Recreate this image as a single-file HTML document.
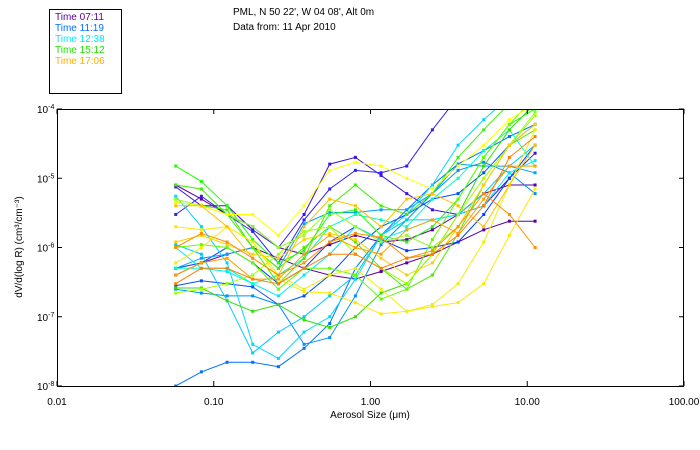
<!DOCTYPE html>
<html><head><meta charset="utf-8"><style>
body{margin:0;background:#fff;}
svg{display:block;font-family:"Liberation Sans",sans-serif;}
</style></head><body>
<svg id="chart" width="700" height="450" viewBox="0 0 700 450">
<rect x="0" y="0" width="700" height="450" fill="#fff"/>
<g>
<rect x="49.5" y="9.5" width="72" height="84" fill="none" stroke="#000"/>
<text x="55" y="20" font-size="10" fill="#5a00a0">Time 07:11</text>
<text x="55" y="31" font-size="10" fill="#0070ff">Time 11:19</text>
<text x="55" y="42" font-size="10" fill="#00e8ff">Time 12:38</text>
<text x="55" y="53" font-size="10" fill="#20e000">Time 15:12</text>
<text x="55" y="64" font-size="10" fill="#ffb000">Time 17:06</text>
</g>
<text x="233" y="15" font-size="10">PML, N 50 22', W 04 08', Alt 0m</text>
<text x="233" y="30" font-size="10">Data from: 11 Apr 2010</text>
<defs><clipPath id="pc"><rect x="57" y="109" width="627" height="277"/></clipPath></defs>
<g id="series" clip-path="url(#pc)"></g>
<rect x="57.5" y="109.5" width="626" height="277" fill="none" stroke="#000"/>
<g id="axes"></g>
<text x="370" y="418" font-size="10" text-anchor="middle">Aerosol Size (μm)</text>
<text transform="translate(22,247) rotate(-90)" font-size="10" text-anchor="middle">dV/d(log R) (cm³/cm⁻³)</text>
</svg>
<script>
const sizes=[0.0572,0.0834,0.1216,0.1773,0.2585,0.3769,0.5495,0.801,1.168,1.703,2.483,3.62,5.278,7.695,11.22];
const xTicks=[0.01,0.1,1,10,100];
const xTickLabels=["0.01","0.10","1.00","10.00","100.00"];
const yTicks=[1e-4,1e-5,1e-6,1e-7,1e-8];
const yTickExps=["-4","-5","-6","-7","-8"];
const seriesColors=["#5a00a0","#5a00a0","#3c10e0","#3020f0","#0040ff","#0050ff","#0070ff","#0090ff","#00a0ff","#00c8ff","#00d8ff","#00e8ff","#00ffc0","#20ff00","#30e000","#40f000","#50e800","#60ff00","#a0ff00","#90ff20","#ffff00","#ffe800","#f0f000","#ffd000","#ffc000","#ffa000","#ff9000","#ff8000"];
const s1=[4e-7,6e-7,8e-7,1e-6,7e-7,5e-7,4e-7,3.5e-7,4.5e-7,6e-7,8e-7,1.2e-6,1.8e-6,2.4e-6,2.4e-6];
const s2=[8e-6,5e-6,3e-6,2e-6,1e-6,8e-7,1.1e-6,1.5e-6,1.2e-6,1.3e-6,1.8e-6,3e-6,6e-6,8e-6,8e-6];
const s3=[7.5e-6,4e-6,4e-6,1.8e-6,1e-6,3e-6,1.6e-5,2e-5,1.1e-5,6e-6,3.5e-6,3e-6,4e-6,1e-5,2.3e-5];
const s4=[3e-6,5.5e-6,3e-6,1.7e-6,6e-7,2.5e-6,7e-6,1.3e-5,1.2e-5,1.5e-5,5e-5,1.5e-4,3e-4,5e-4,6e-4];
const s5=[5e-7,6e-7,1e-6,6e-7,3e-7,5e-7,1.2e-6,2e-6,1.3e-6,9e-7,1e-6,1.2e-6,3e-6,1e-5,3e-5];
const s6=[2.8e-7,3.3e-7,3e-7,2.7e-7,1.5e-7,2e-7,4e-7,1e-6,2e-6,3e-6,5e-6,6e-6,1.2e-5,3e-5,6e-5];
const s7=[1e-8,1.6e-8,2.2e-8,2.2e-8,1.9e-8,3.5e-8,8e-8,5e-7,1.5e-6,3.5e-6,8e-6,1.6e-5,2.5e-5,4e-5,6e-5];
const s8=[2.5e-7,2.2e-7,2e-7,2e-7,1.5e-7,4e-8,5e-8,2e-7,1.1e-6,2.5e-6,6e-6,1.3e-5,1.7e-5,1.2e-5,6e-6];
const s9=[5e-7,7e-7,8e-7,1e-6,5e-7,2.2e-6,3.2e-6,3.2e-6,3.5e-6,3.5e-6,6e-6,1.6e-5,1.5e-5,1.5e-5,1.2e-5];
const s10=[1.1e-6,8e-7,1.7e-7,3e-8,6e-8,1e-7,2e-7,4e-7,1.5e-6,2.5e-6,2.5e-6,3e-6,6e-6,1.5e-5,3e-5];
const s11=[5.5e-6,2e-6,6e-7,4e-8,2.5e-8,6e-8,1e-7,3.5e-7,1.5e-6,3e-6,8e-6,3e-5,7e-5,1.5e-4,3e-4];
const s12=[1e-6,5e-7,4.5e-7,3e-7,2e-7,4e-7,8e-7,2e-6,1.3e-6,1.8e-6,2.5e-6,3e-6,4e-6,1.2e-5,1.8e-5];
const s13=[5e-7,5e-7,5e-7,3e-7,4e-7,7e-7,2e-6,3e-6,2.5e-6,2e-6,5e-6,1e-5,2.5e-5,5e-5,1.5e-5];
const s14=[1.5e-5,9e-6,4e-6,1.3e-6,6e-7,9e-7,3e-6,3.5e-6,1.5e-6,1.2e-6,2e-6,5e-6,2e-5,6e-5,1e-4];
const s15=[2.6e-7,2.6e-7,1.7e-7,1.2e-7,1.5e-7,9e-8,7e-8,1e-7,2.2e-7,3e-7,8e-7,3e-6,1.5e-5,5e-5,1.2e-4];
const s16=[8e-6,7e-6,3e-6,1e-6,3e-7,7e-7,4e-6,8e-6,4e-6,3e-6,6e-6,2e-5,5e-5,1.2e-4,2e-4];
const s17=[4.5e-6,4e-6,3.5e-6,1e-6,5e-7,1e-6,2e-6,1.2e-6,5e-7,2.5e-7,4e-7,1.6e-6,8e-6,3e-5,5e-5];
const s18=[1e-6,1.1e-6,1e-6,6e-7,2.5e-7,5e-7,5e-7,4e-7,1.8e-7,2.5e-7,1.3e-6,5e-6,2e-5,6e-5,1.5e-4];
const s19=[2.2e-7,2.5e-7,3e-7,4e-7,8e-7,1.7e-6,2e-6,8e-7,5e-7,3e-7,8e-7,3e-6,1e-5,3e-5,8e-5];
const s20=[5e-6,4e-6,3e-6,2e-6,1e-6,1.5e-6,3.5e-6,2e-6,1.2e-6,1.5e-6,1e-6,2e-6,8e-6,3e-5,9e-5];
const s21=[4.5e-6,4e-6,3e-6,3e-6,1.5e-6,4e-6,1.3e-5,1.7e-5,1.5e-5,1e-5,7e-6,1.5e-5,3e-5,7e-5,1.2e-4];
const s22=[2e-6,1.8e-6,2e-6,1.2e-6,3.5e-7,2.3e-7,2.2e-7,1.6e-7,1.1e-7,1.2e-7,1.4e-7,1.6e-7,3e-7,1.5e-6,7e-6];
const s23=[6e-7,1e-6,2e-6,1.2e-6,4e-7,2.5e-7,4e-7,5e-7,2.5e-7,1.2e-7,1.5e-7,3e-7,1.2e-6,8e-6,5e-5];
const s24=[1.2e-6,1.5e-6,1.1e-6,8e-7,7e-7,1.3e-6,1.6e-6,1.3e-6,7e-7,4e-7,6e-7,2e-6,8e-6,3e-5,6e-5];
const s25=[4e-6,4e-6,2e-6,7e-7,4e-7,2e-6,5e-6,4e-6,2e-6,5e-6,6e-6,4e-6,2e-6,8e-6,3e-5];
const s26=[4e-7,6e-7,7e-7,3.5e-7,3.5e-7,8e-7,1.5e-6,1e-6,8e-7,1.8e-6,2.5e-6,1.6e-6,5e-6,1.5e-5,1.5e-5];
const s27=[1e-6,1.6e-6,1.2e-6,7e-7,4e-7,6e-7,1.2e-6,1.6e-6,1.4e-6,7e-7,9e-7,2e-6,6e-6,3e-6,1e-6];
const s28=[3e-7,5e-7,5e-7,3.5e-7,3e-7,5e-7,8e-7,8e-7,5e-7,7e-7,8e-7,1.5e-6,4e-6,2e-5,4e-5];
const allSeries=[s1,s2,s3,s4,s5,s6,s7,s8,s9,s10,s11,s12,s13,s14,s15,s16,s17,s18,s19,s20,s21,s22,s23,s24,s25,s26,s27,s28];

const NS="http://www.w3.org/2000/svg";
function xPos(v){return 57+(Math.log10(v)+2)*156.75;}
function yPos(v){return 109+(-4-Math.log10(v))*69.25;}
const g=document.getElementById('series');
allSeries.forEach((s,i)=>{
  const col=seriesColors[i%seriesColors.length];
  const pl=document.createElementNS(NS,'polyline');
  pl.setAttribute('points',s.map((v,j)=>xPos(sizes[j]).toFixed(1)+','+yPos(v).toFixed(1)).join(' '));
  pl.setAttribute('fill','none');pl.setAttribute('stroke',col);pl.setAttribute('stroke-width','1');
  
  
  g.appendChild(pl);
  s.forEach((v,j)=>{
    const r=document.createElementNS(NS,'rect');
    r.setAttribute('x',xPos(sizes[j])-1.5);r.setAttribute('y',yPos(v)-1.5);
    r.setAttribute('width',3);r.setAttribute('height',3);r.setAttribute('fill',col);
    
    
    g.appendChild(r);
  });
});
const ax=document.getElementById('axes');
xTicks.forEach((t,i)=>{
  const x=xPos(t);
  [[386,381],[109,114]].forEach(p=>{
    const l=document.createElementNS(NS,'line');
    l.setAttribute('x1',x);l.setAttribute('x2',x);l.setAttribute('y1',p[0]);l.setAttribute('y2',p[1]);l.setAttribute('stroke','#000');
    
    
    ax.appendChild(l);
  });
  const tx=document.createElementNS(NS,'text');
  tx.setAttribute('x',x);tx.setAttribute('y',405);tx.setAttribute('font-size','10');tx.setAttribute('text-anchor','middle');
  tx.textContent=xTickLabels[i];
  
  
  ax.appendChild(tx);
});
yTicks.forEach((t,i)=>{
  const y=yPos(t);
  [[57,62],[684,679]].forEach(p=>{
    const l=document.createElementNS(NS,'line');
    l.setAttribute('x1',p[0]);l.setAttribute('x2',p[1]);l.setAttribute('y1',y);l.setAttribute('y2',y);l.setAttribute('stroke','#000');
    
    
    ax.appendChild(l);
  });
  const tx=document.createElementNS(NS,'text');
  tx.setAttribute('x',37);tx.setAttribute('y',y+4);tx.setAttribute('font-size','10');
  tx.innerHTML='10<tspan dy="-4" font-size="7">'+yTickExps[i]+'</tspan>';
  
  
  ax.appendChild(tx);
});
</script>
</body></html>
